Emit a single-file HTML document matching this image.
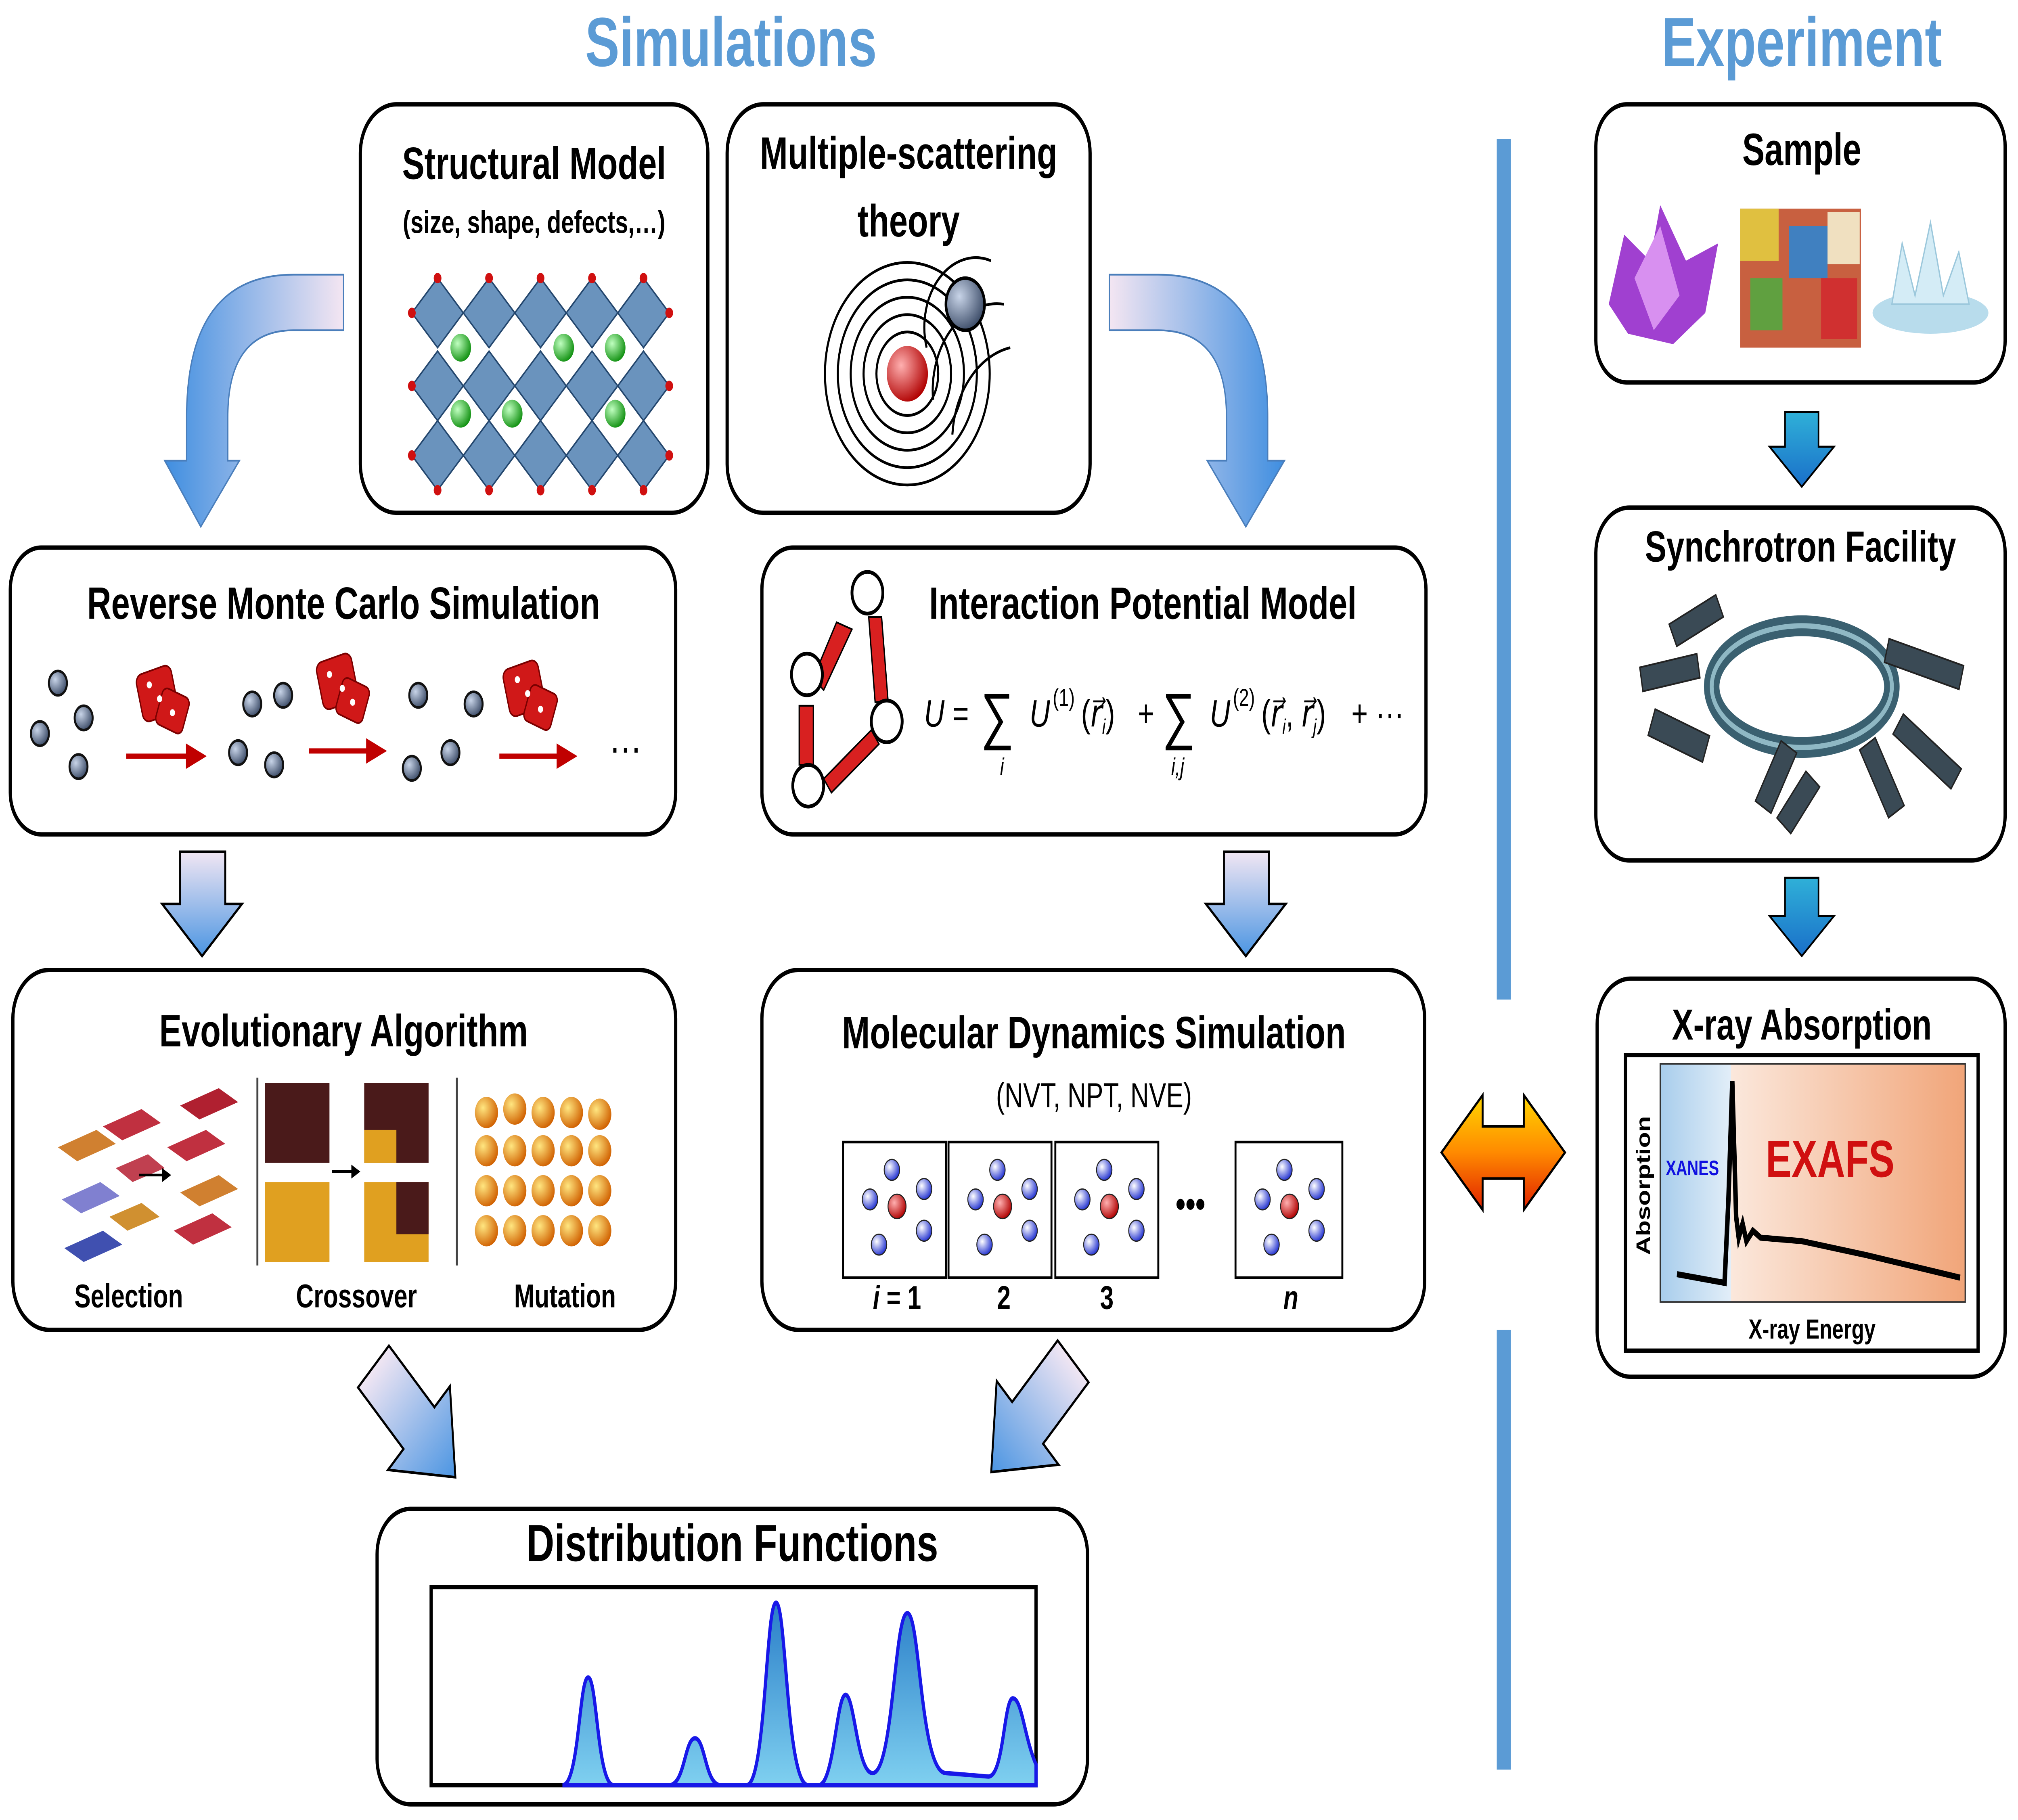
<!DOCTYPE html>
<html><head><meta charset="utf-8">
<style>
html,body{margin:0;padding:0;background:#fff;width:100%;height:100%;overflow:hidden;}
svg{display:block;position:fixed;left:0;top:0;width:100vw;height:100vh;}
text{font-family:"Liberation Sans",sans-serif;}
</style></head>
<body>
<svg xmlns="http://www.w3.org/2000/svg" viewBox="0 0 1568 1047" preserveAspectRatio="none">
<defs>
<linearGradient id="gh" x1="1" y1="0" x2="0" y2="0"><stop offset="0" stop-color="#f4e6f2"/><stop offset="1" stop-color="#3f8ee0"/></linearGradient>
<linearGradient id="ghr" x1="0" y1="0" x2="1" y2="0"><stop offset="0" stop-color="#f4e6f2"/><stop offset="1" stop-color="#3f8ee0"/></linearGradient>
<linearGradient id="gv" x1="0" y1="0" x2="0" y2="1"><stop offset="0" stop-color="#f1e6f3"/><stop offset="1" stop-color="#4b95e2"/></linearGradient>
<linearGradient id="gt" x1="0" y1="0" x2="0" y2="1"><stop offset="0" stop-color="#2fb0d8"/><stop offset="1" stop-color="#1a6fc9"/></linearGradient>
<linearGradient id="go" x1="0" y1="0" x2="0" y2="1"><stop offset="0" stop-color="#ffd600"/><stop offset="0.5" stop-color="#ff8a00"/><stop offset="1" stop-color="#e02000"/></linearGradient>
<linearGradient id="gdist" x1="0" y1="0" x2="0" y2="1"><stop offset="0" stop-color="#2a7ec8"/><stop offset="1" stop-color="#7fd0f0"/></linearGradient>
<linearGradient id="gx" x1="0" y1="0" x2="1" y2="0"><stop offset="0" stop-color="#fbe8dc"/><stop offset="1" stop-color="#f1a579"/></linearGradient>
<linearGradient id="gxb" x1="0" y1="0" x2="1" y2="0"><stop offset="0" stop-color="#a8cdec"/><stop offset="1" stop-color="#e2eef8"/></linearGradient>
<radialGradient id="ball" cx="0.35" cy="0.35" r="0.7"><stop offset="0" stop-color="#c8d4e8"/><stop offset="1" stop-color="#3a4a66"/></radialGradient>
<radialGradient id="rball" cx="0.35" cy="0.35" r="0.7"><stop offset="0" stop-color="#ffb0b0"/><stop offset="1" stop-color="#b00000"/></radialGradient>
<radialGradient id="bball" cx="0.35" cy="0.35" r="0.7"><stop offset="0" stop-color="#fff"/><stop offset="1" stop-color="#2030d0"/></radialGradient>
<radialGradient id="gball" cx="0.35" cy="0.35" r="0.7"><stop offset="0" stop-color="#c0ffc0"/><stop offset="1" stop-color="#109010"/></radialGradient>
<radialGradient id="yball" cx="0.35" cy="0.35" r="0.7"><stop offset="0" stop-color="#ffe680"/><stop offset="1" stop-color="#d06000"/></radialGradient>
</defs>

<text x="568" y="38" font-size="40" font-weight="bold" fill="#5b9bd5" text-anchor="middle">Simulations</text>
<text x="1400" y="38" font-size="40" font-weight="bold" fill="#5b9bd5" text-anchor="middle">Experiment</text>

<rect x="1163" y="80" width="11" height="495" fill="#5b9bd5"/>
<rect x="1163" y="765" width="11" height="253" fill="#5b9bd5"/>

<g fill="#fff" stroke="#000" stroke-width="2.5">
<rect x="280" y="60" width="270" height="235" rx="28"/>
<rect x="565" y="60" width="282" height="235" rx="28"/>
<rect x="8" y="315" width="517" height="165" rx="24"/>
<rect x="592" y="315" width="516" height="165" rx="24"/>
<rect x="10" y="558" width="515" height="207" rx="28"/>
<rect x="592" y="558" width="515" height="207" rx="28"/>
<rect x="293" y="868" width="552" height="170" rx="26"/>
<rect x="1240" y="60" width="318" height="160" rx="24"/>
<rect x="1240" y="292" width="318" height="203" rx="26"/>
<rect x="1241" y="563" width="317" height="229" rx="26"/>
</g>

<path d="M267,158 L228,158 Q145,158 145,240 L145,265 L128,265 L156,303 L186,265 L177,265 L177,240 Q177,190 228,190 L267,190 Z" fill="url(#gh)" stroke="#4a7ebb" stroke-width="1"/>
<path d="M862,158 L900,158 Q985,158 985,240 L985,265 L998,265 L968,303 L938,265 L953,265 L953,240 Q953,190 900,190 L862,190 Z" fill="url(#ghr)" stroke="#4a7ebb" stroke-width="1"/>
<path d="M140,490 L175,490 L175,520 L188,520 L157,550 L126,520 L140,520 Z" fill="url(#gv)" stroke="#000" stroke-width="1.5"/>
<path d="M951,490 L986,490 L986,520 L999,520 L968,550 L937,520 L951,520 Z" fill="url(#gv)" stroke="#000" stroke-width="1.5"/>
<path d="M1387,237 L1413,237 L1413,257 L1425,257 L1400,280 L1375,257 L1387,257 Z" fill="url(#gt)" stroke="#000" stroke-width="1.2"/>
<path d="M1387,505 L1413,505 L1413,527 L1425,527 L1400,550 L1375,527 L1387,527 Z" fill="url(#gt)" stroke="#000" stroke-width="1.2"/>
<g transform="translate(322,818) rotate(-45)">
<path d="M-17,-45 L17,-45 L17,5 L34,5 L0,45 L-34,5 L-17,5 Z" fill="url(#gv)" stroke="#000" stroke-width="1.5"/></g>
<g transform="translate(802,815) rotate(45)">
<path d="M-17,-45 L17,-45 L17,5 L34,5 L0,45 L-34,5 L-17,5 Z" fill="url(#gv)" stroke="#000" stroke-width="1.5"/></g>
<path d="M1120,663 L1152,630 L1152,648 L1184,648 L1184,630 L1216,663 L1184,696 L1184,678 L1152,678 L1152,696 Z" fill="url(#go)" stroke="#000" stroke-width="1.5"/>

<text x="415" y="103" font-size="26" font-weight="bold" text-anchor="middle">Structural Model</text>
<text x="415" y="134" font-size="18" font-weight="bold" text-anchor="middle">(size, shape, defects,…)</text>
<g fill="#6a93bd" stroke="#24476e" stroke-width="1">
<path d="M320,180 L340,160 L360,180 L340,200Z"/><path d="M360,180 L380,160 L400,180 L380,200Z"/><path d="M400,180 L420,160 L440,180 L420,200Z"/><path d="M440,180 L460,160 L480,180 L460,200Z"/><path d="M480,180 L500,160 L520,180 L500,200Z"/>
<path d="M320,222 L340,202 L360,222 L340,242Z"/><path d="M360,222 L380,202 L400,222 L380,242Z"/><path d="M400,222 L420,202 L440,222 L420,242Z"/><path d="M440,222 L460,202 L480,222 L460,242Z"/><path d="M480,222 L500,202 L520,222 L500,242Z"/>
<path d="M320,262 L340,242 L360,262 L340,282Z"/><path d="M360,262 L380,242 L400,262 L380,282Z"/><path d="M400,262 L420,242 L440,262 L420,282Z"/><path d="M440,262 L460,242 L480,262 L460,282Z"/><path d="M480,262 L500,242 L520,262 L500,282Z"/>
</g>
<g fill="url(#gball)"><circle cx="358" cy="200" r="8"/><circle cx="438" cy="200" r="8"/><circle cx="478" cy="200" r="8"/><circle cx="358" cy="238" r="8"/><circle cx="398" cy="238" r="8"/><circle cx="478" cy="238" r="8"/></g>
<g fill="#d01010"><circle cx="340" cy="160" r="3"/><circle cx="380" cy="160" r="3"/><circle cx="420" cy="160" r="3"/><circle cx="460" cy="160" r="3"/><circle cx="500" cy="160" r="3"/><circle cx="320" cy="180" r="3"/><circle cx="520" cy="180" r="3"/><circle cx="320" cy="222" r="3"/><circle cx="520" cy="222" r="3"/><circle cx="320" cy="262" r="3"/><circle cx="520" cy="262" r="3"/><circle cx="340" cy="282" r="3"/><circle cx="380" cy="282" r="3"/><circle cx="420" cy="282" r="3"/><circle cx="460" cy="282" r="3"/><circle cx="500" cy="282" r="3"/></g>

<text x="706" y="97" font-size="26" font-weight="bold" text-anchor="middle">Multiple-scattering</text>
<text x="706" y="136" font-size="26" font-weight="bold" text-anchor="middle">theory</text>
<g fill="none" stroke="#000" stroke-width="1.6">
<circle cx="705" cy="215" r="14"/><circle cx="705" cy="215" r="24"/><circle cx="705" cy="215" r="34"/><circle cx="705" cy="215" r="44"/><circle cx="705" cy="215" r="54"/><circle cx="705" cy="215" r="64"/>
<path d="M770,150 A40,40 0 0 0 720,200"/><path d="M780,175 A50,50 0 0 0 725,230"/><path d="M785,200 A55,55 0 0 0 740,250"/>
</g>
<circle cx="705" cy="215" r="16" fill="url(#rball)"/>
<circle cx="750" cy="175" r="15" fill="url(#ball)" stroke="#000" stroke-width="2"/>

<text x="267" y="356" font-size="26" font-weight="bold" text-anchor="middle">Reverse Monte Carlo Simulation</text>
<g fill="url(#ball)" stroke="#111" stroke-width="1.5">
<circle cx="45" cy="393" r="7"/><circle cx="31" cy="422" r="7"/><circle cx="65" cy="413" r="7"/><circle cx="61" cy="441" r="7"/>
<circle cx="196" cy="405" r="7"/><circle cx="220" cy="400" r="7"/><circle cx="185" cy="433" r="7"/><circle cx="213" cy="440" r="7"/>
<circle cx="325" cy="400" r="7"/><circle cx="368" cy="405" r="7"/><circle cx="320" cy="442" r="7"/><circle cx="350" cy="433" r="7"/>
</g>
<g fill="#d01818" stroke="#7a0000" stroke-width="1">
<rect x="108" y="385" width="28" height="28" rx="5" transform="rotate(-15 122 399)"/><rect x="123" y="398" width="22" height="22" rx="4" transform="rotate(20 134 409)"/>
<rect x="248" y="378" width="28" height="28" rx="5" transform="rotate(-15 262 392)"/><rect x="263" y="392" width="22" height="22" rx="4" transform="rotate(20 274 403)"/>
<rect x="393" y="382" width="28" height="28" rx="5" transform="rotate(-15 407 396)"/><rect x="409" y="396" width="22" height="22" rx="4" transform="rotate(20 420 407)"/>
</g>
<g fill="#fff"><circle cx="116" cy="394" r="2"/><circle cx="124" cy="402" r="2"/><circle cx="256" cy="388" r="2"/><circle cx="266" cy="396" r="2"/><circle cx="402" cy="391" r="2"/><circle cx="410" cy="399" r="2"/><circle cx="134" cy="410" r="2"/><circle cx="274" cy="404" r="2"/><circle cx="420" cy="408" r="2"/></g>
<g stroke="#c00000" stroke-width="3" fill="#c00000">
<line x1="98" y1="435" x2="148" y2="435"/><path d="M146,430 L157,435 L146,440Z"/>
<line x1="240" y1="432" x2="288" y2="432"/><path d="M286,427 L297,432 L286,437Z"/>
<line x1="388" y1="435" x2="436" y2="435"/><path d="M434,430 L445,435 L434,440Z"/>
</g>
<text x="486" y="433" font-size="26" text-anchor="middle">…</text>

<text x="888" y="356" font-size="26" font-weight="bold" text-anchor="middle">Interaction Potential Model</text>
<g fill="#d82020" stroke="#000" stroke-width="1">
<path d="M650,358 L662,362 L640,397 L632,390Z"/>
<path d="M675,355 L685,355 L690,403 L680,404Z"/>
<rect x="621" y="406" width="11" height="34"/>
<path d="M640,448 L677,420 L683,428 L646,456Z"/>
</g>
<g fill="#fff" stroke="#000" stroke-width="2.2">
<circle cx="674" cy="341" r="12"/><circle cx="627" cy="388" r="12"/><circle cx="689" cy="415" r="12"/><circle cx="628" cy="452" r="12"/>
</g>
<g font-family="Liberation Serif,serif" font-size="22">
<text x="718" y="418" font-style="italic">U</text>
<text x="740" y="418">=</text>
<text x="762" y="424" font-size="36">∑</text>
<text x="777" y="446" font-size="14" font-style="italic">i</text>
<text x="800" y="418" font-style="italic">U</text><text x="818" y="406" font-size="14">(1)</text>
<text x="840" y="418">(<tspan font-style="italic">r⃗</tspan><tspan font-size="12" dy="4" font-style="italic">i</tspan><tspan dy="-4">)</tspan></text>
<text x="884" y="418">+</text>
<text x="903" y="424" font-size="36">∑</text>
<text x="910" y="446" font-size="14" font-style="italic">i,j</text>
<text x="940" y="418" font-style="italic">U</text><text x="958" y="406" font-size="14">(2)</text>
<text x="980" y="418">(<tspan font-style="italic">r⃗</tspan><tspan font-size="12" dy="4" font-style="italic">i</tspan><tspan dy="-4">, </tspan><tspan font-style="italic">r⃗</tspan><tspan font-size="12" dy="4" font-style="italic">j</tspan><tspan dy="-4">)</tspan></text>
<text x="1050" y="418">+ ···</text>
</g>

<text x="267" y="602" font-size="26" font-weight="bold" text-anchor="middle">Evolutionary Algorithm</text>
<g>
<path d="M45,660 L75,650 L90,658 L60,668Z" fill="#d08030"/><path d="M80,648 L110,638 L125,646 L95,656Z" fill="#c03040"/>
<path d="M48,690 L78,680 L93,688 L63,698Z" fill="#8080d0"/><path d="M90,672 L115,664 L128,672 L103,680Z" fill="#c04050"/>
<path d="M50,718 L80,708 L95,716 L65,726Z" fill="#4050b0"/><path d="M85,700 L110,692 L124,700 L99,708Z" fill="#d09030"/>
<path d="M140,636 L170,626 L185,634 L155,644Z" fill="#b02030"/><path d="M130,660 L160,650 L175,658 L145,668Z" fill="#c03040"/>
<path d="M140,686 L170,676 L185,684 L155,694Z" fill="#d08030"/><path d="M135,708 L165,698 L180,706 L150,716Z" fill="#c03040"/>
<line x1="108" y1="676" x2="128" y2="676" stroke="#000" stroke-width="1.5"/><path d="M126,672 L133,676 L126,680Z"/>
</g>
<line x1="200" y1="620" x2="200" y2="728" stroke="#444" stroke-width="1.5"/>
<line x1="355" y1="620" x2="355" y2="728" stroke="#444" stroke-width="1.5"/>
<g>
<rect x="206" y="623" width="50" height="46" fill="#4a1a1a"/>
<rect x="206" y="680" width="50" height="46" fill="#e0a020"/>
<rect x="283" y="623" width="50" height="46" fill="#4a1a1a"/><rect x="283" y="650" width="25" height="19" fill="#e0a020"/>
<rect x="283" y="680" width="50" height="46" fill="#e0a020"/><rect x="308" y="680" width="25" height="30" fill="#4a1a1a"/>
<line x1="258" y1="674" x2="275" y2="674" stroke="#000" stroke-width="1.5"/><path d="M273,670 L280,674 L273,678Z"/>
</g>
<g fill="url(#yball)">
<circle cx="378" cy="640" r="9"/><circle cx="400" cy="638" r="9"/><circle cx="422" cy="640" r="9"/><circle cx="444" cy="640" r="9"/><circle cx="466" cy="641" r="9"/>
<circle cx="378" cy="662" r="9"/><circle cx="400" cy="662" r="9"/><circle cx="422" cy="662" r="9"/><circle cx="444" cy="662" r="9"/><circle cx="466" cy="662" r="9"/>
<circle cx="378" cy="685" r="9"/><circle cx="400" cy="685" r="9"/><circle cx="422" cy="685" r="9"/><circle cx="444" cy="685" r="9"/><circle cx="466" cy="685" r="9"/>
<circle cx="378" cy="708" r="9"/><circle cx="400" cy="708" r="9"/><circle cx="422" cy="708" r="9"/><circle cx="444" cy="708" r="9"/><circle cx="466" cy="708" r="9"/>
</g>
<text x="100" y="752" font-size="19" font-weight="bold" text-anchor="middle">Selection</text>
<text x="277" y="752" font-size="19" font-weight="bold" text-anchor="middle">Crossover</text>
<text x="439" y="752" font-size="19" font-weight="bold" text-anchor="middle">Mutation</text>

<text x="850" y="603" font-size="26" font-weight="bold" text-anchor="middle">Molecular Dynamics Simulation</text>
<text x="850" y="637" font-size="20" text-anchor="middle">(NVT, NPT, NVE)</text>
<g fill="#fff" stroke="#000" stroke-width="1.5">
<rect x="655" y="657" width="80" height="78"/><rect x="737" y="657" width="80" height="78"/><rect x="820" y="657" width="80" height="78"/><rect x="960" y="657" width="83" height="78"/>
</g>
<g id="md">
<circle cx="693" cy="673" r="6" fill="url(#bball)" stroke="#222" stroke-width="0.7"/>
<circle cx="676" cy="690" r="6" fill="url(#bball)" stroke="#222" stroke-width="0.7"/>
<circle cx="718" cy="684" r="6" fill="url(#bball)" stroke="#222" stroke-width="0.7"/>
<circle cx="697" cy="694" r="7" fill="url(#rball)" stroke="#222" stroke-width="0.7"/>
<circle cx="683" cy="716" r="6" fill="url(#bball)" stroke="#222" stroke-width="0.7"/>
<circle cx="718" cy="708" r="6" fill="url(#bball)" stroke="#222" stroke-width="0.7"/>
</g>
<use href="#md" x="82"/><use href="#md" x="165"/><use href="#md" x="305"/>
<text x="925" y="700" font-size="22" font-weight="bold" text-anchor="middle">•••</text>
<text x="697" y="753" font-size="19" font-weight="bold" text-anchor="middle"><tspan font-style="italic">i</tspan> = 1</text>
<text x="780" y="753" font-size="19" font-weight="bold" text-anchor="middle">2</text>
<text x="860" y="753" font-size="19" font-weight="bold" text-anchor="middle">3</text>
<text x="1003" y="753" font-size="19" font-weight="bold" font-style="italic" text-anchor="middle">n</text>

<text x="569" y="898" font-size="30" font-weight="bold" text-anchor="middle">Distribution Functions</text>
<rect x="335" y="913" width="470" height="114" fill="#fff" stroke="#000" stroke-width="2.5"/>
<path d="M437,1027 C450,1027 450,965 457,965 C464,965 464,1027 477,1027 L520,1027 C532,1027 532,1000 540,1000 C548,1000 548,1027 560,1027 L580,1027 C595,1027 595,922 603,922 C611,922 611,1027 628,1027 L636,1027 C648,1027 650,975 657,975 C664,975 666,1020 678,1020 C694,1020 695,928 705,928 C715,928 715,1020 735,1020 L768,1022 C780,1022 780,977 787,977 C794,977 796,1000 805,1015 L805,1027 Z" fill="url(#gdist)" stroke="#1818e8" stroke-width="2.5"/>

<text x="1400" y="95" font-size="26" font-weight="bold" text-anchor="middle">Sample</text>
<path d="M1250,175 L1262,135 L1282,150 L1290,118 L1310,150 L1335,140 L1325,180 L1300,198 L1265,192Z" fill="#a040d0"/>
<path d="M1270,160 L1290,130 L1305,170 L1285,190Z" fill="#d890f0"/>
<rect x="1352" y="120" width="94" height="80" fill="#c86040"/>
<rect x="1352" y="120" width="30" height="30" fill="#e0c040"/><rect x="1390" y="130" width="30" height="30" fill="#4080c0"/><rect x="1360" y="160" width="25" height="30" fill="#60a040"/><rect x="1415" y="160" width="28" height="35" fill="#d03030"/><rect x="1420" y="122" width="25" height="30" fill="#f0e0c0"/>
<ellipse cx="1500" cy="180" rx="45" ry="12" fill="#b8dcec"/>
<path d="M1470,175 L1478,140 L1488,170 L1500,128 L1510,170 L1522,145 L1530,175Z" fill="#d4ecf6" stroke="#9cc8dc"/>

<text x="1399" y="323" font-size="25" font-weight="bold" text-anchor="middle">Synchrotron Facility</text>
<ellipse cx="1400" cy="395" rx="70" ry="35" fill="none" stroke="#3a6070" stroke-width="12"/>
<ellipse cx="1400" cy="395" rx="70" ry="35" fill="none" stroke="#8fb8c4" stroke-width="3"/>
<g fill="#3a4a55" stroke="#222" stroke-width="1">
<rect x="1282" y="415" width="45" height="16" transform="rotate(20 1304 423)"/>
<rect x="1275" y="380" width="45" height="14" transform="rotate(-10 1297 387)"/>
<rect x="1298" y="350" width="40" height="14" transform="rotate(-25 1318 357)"/>
<rect x="1465" y="375" width="60" height="14" transform="rotate(15 1495 382)"/>
<rect x="1470" y="425" width="55" height="14" transform="rotate(35 1497 432)"/>
<rect x="1440" y="440" width="45" height="14" transform="rotate(60 1462 447)"/>
<rect x="1360" y="440" width="40" height="14" transform="rotate(-60 1380 447)"/>
<rect x="1380" y="455" width="35" height="14" transform="rotate(-50 1397 462)"/>
</g>

<text x="1400" y="598" font-size="25" font-weight="bold" text-anchor="middle">X-ray Absorption</text>
<rect x="1263" y="607" width="274" height="170" fill="#fff" stroke="#000" stroke-width="2.5"/>
<rect x="1290" y="612" width="55" height="137" fill="url(#gxb)"/>
<rect x="1345" y="612" width="182" height="137" fill="url(#gx)"/>
<rect x="1290" y="612" width="237" height="137" fill="none" stroke="#333" stroke-width="1"/>
<path d="M1303,733 L1340,738 L1343,690 L1346,622 L1349,700 L1351,712 L1354,704 L1357,714 L1362,708 L1368,712 L1400,714 L1450,722 L1523,735" fill="none" stroke="#000" stroke-width="3.5"/>
<text x="1315" y="676" font-size="12" font-weight="bold" fill="#1010e0" text-anchor="middle">XANES</text>
<text x="1422" y="677" font-size="30" font-weight="bold" fill="#d01010" text-anchor="middle">EXAFS</text>
<text x="1282" y="682" font-size="15" font-weight="bold" text-anchor="middle" transform="rotate(-90 1282 682)">Absorption</text>
<text x="1408" y="770" font-size="16" font-weight="bold" text-anchor="middle">X-ray Energy</text>
</svg>
</body></html>
